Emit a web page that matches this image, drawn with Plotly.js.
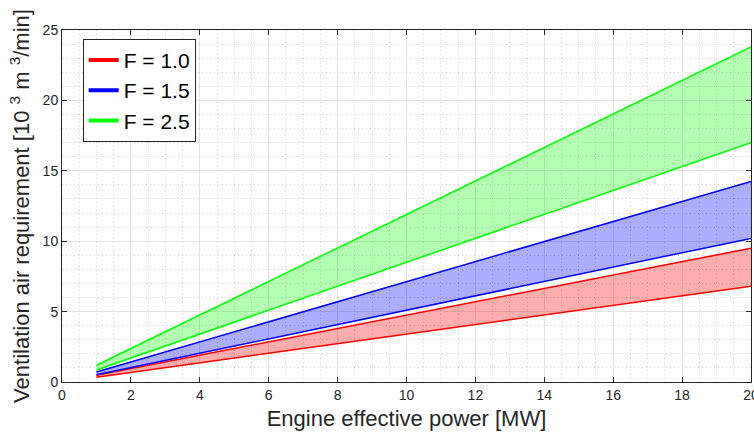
<!DOCTYPE html>
<html><head><meta charset="utf-8">
<script src="https://cdn.plot.ly/plotly-3.0.1.min.js"></script>
<style>html,body{margin:0;padding:0;background:#fff}#chart{width:754px;height:438px}</style>
</head><body><div id="chart"></div>
<script>
const xPower = [1, 20];
const f10Low = [0.34, 6.8];
const f10High = [0.475, 9.5];
const f15Low = [0.51, 10.2];
const f15High = [0.71, 14.25];
const f25Low = [0.85, 17.0];
const f25High = [1.19, 23.8];
const legendNames = ['F = 1.0', 'F = 1.5', 'F = 2.5'];
const lineColors = ['#ff0000', '#0000ff', '#00ff00'];
const fillColors = ['rgba(255,0,0,0.32)', 'rgba(0,0,255,0.32)', 'rgba(0,255,0,0.3)'];
const bands = [[f10Low, f10High], [f15Low, f15High], [f25Low, f25High]];

const traces = [];
bands.forEach((b, i) => {
  traces.push({x: xPower, y: b[0], mode: 'lines', line: {color: lineColors[i], width: 1.5}, showlegend: false, hoverinfo: 'skip'});
  traces.push({x: xPower, y: b[1], mode: 'lines', line: {color: lineColors[i], width: 1.5}, fill: 'tonexty', fillcolor: fillColors[i], showlegend: false, hoverinfo: 'skip'});
});
legendNames.forEach((n, i) => {
  traces.push({x: [null], y: [null], mode: 'lines', name: n, line: {color: lineColors[i], width: 4}});
});

const axisCommon = {
  showline: true, mirror: 'ticks', linecolor: '#262626', linewidth: 1,
  ticks: 'inside', ticklen: 5, tickcolor: '#262626',
  showgrid: true, gridcolor: '#e3e3e3', gridwidth: 1,
  zeroline: false,
  ticklabeloverflow: 'allow',
  tickfont: {family: 'Liberation Sans, Arial, sans-serif', size: 14, color: '#262626'},
};
const layout = {
  width: 754, height: 438,
  margin: {l: 62, r: 3, t: 30, b: 56},
  paper_bgcolor: '#fff', plot_bgcolor: '#fff',
  font: {family: 'Liberation Sans, Arial, sans-serif', color: '#262626'},
  xaxis: Object.assign({}, axisCommon, {
    range: [0, 20], tickvals: [0, 2, 4, 6, 8, 10, 12, 14, 16, 18, 20],
    minor: {dtick: 0.5, showgrid: true, gridcolor: '#d0d0d0', griddash: '1px,3px', gridwidth: 1},
    title: {text: 'Engine effective power [MW]', font: {size: 22, color: '#262626'}, standoff: 8}
  }),
  yaxis: Object.assign({}, axisCommon, {
    range: [0, 25], dtick: 5, tick0: 0,
    minor: {dtick: 1, showgrid: true, gridcolor: '#d0d0d0', griddash: '1px,3px', gridwidth: 1},
    title: {text: 'Ventilation air requirement [10 <sup>3</sup> m <sup>3</sup>/min]', font: {size: 22, color: '#262626'}, standoff: 6}
  }),
  legend: {
    x: 0.03, y: 0.975, xanchor: 'left', yanchor: 'top',
    traceorder: 'normal',
    bgcolor: '#fff', bordercolor: '#262626', borderwidth: 1,
    font: {size: 21, color: '#000'},
    tracegroupgap: 0
  },
  showlegend: true
};
Plotly.newPlot('chart', traces, layout, {displayModeBar: false, staticPlot: true});
</script></body></html>
